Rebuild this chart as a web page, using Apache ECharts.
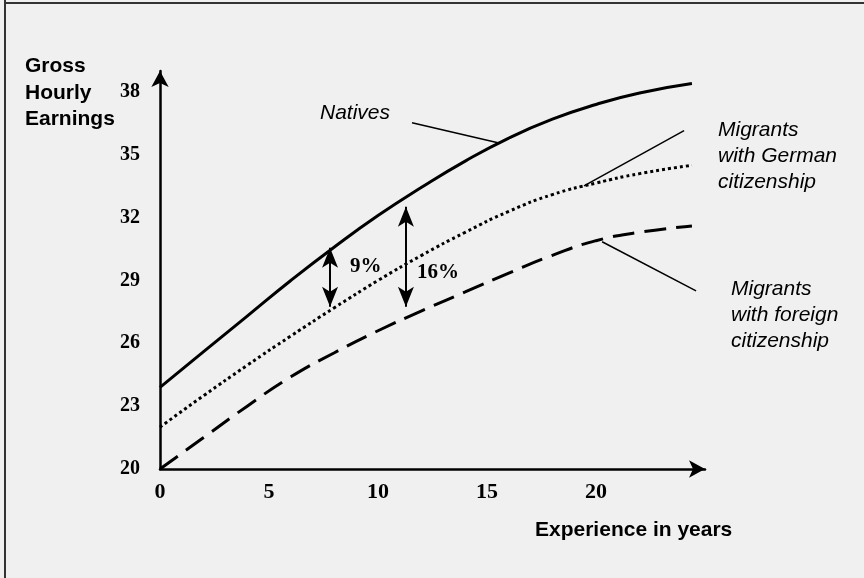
<!DOCTYPE html>
<html>
<head>
<meta charset="utf-8">
<title>Gross hourly earnings by experience</title>
<script src="https://cdn.jsdelivr.net/npm/echarts@6/dist/echarts.min.js"></script>
<style>
  html, body { margin: 0; padding: 0; background: #f0f0f0; }
  #chart { width: 864px; height: 578px; }
</style>
</head>
<body>
<div id="chart"></div>
<script>
var years = [0, 2, 4, 6, 8, 10, 12, 14, 16, 18, 20, 22, 24.4];
var natives = [23.9, 25.6, 27.3, 29.0, 30.6, 32.1, 33.45, 34.7, 35.8, 36.7, 37.4, 37.95, 38.4];
var germanCitizens = [22.0, 23.5, 24.95, 26.35, 27.7, 29.0, 30.2, 31.3, 32.3, 33.1, 33.65, 34.1, 34.5];
var foreignCitizens = [20.0, 21.5, 23.0, 24.4, 25.55, 26.6, 27.55, 28.45, 29.35, 30.2, 30.9, 31.3, 31.6];

var xTicks = [0, 5, 10, 15, 20];
var yTicks = [20, 23, 26, 29, 32, 35, 38];

// gap arrows: [year, top, bottom]
var gapArrows = [[7.8, 30.56, 27.74], [11.28, 32.52, 27.74]];
var gapLabels = ['9%', '16%'];

// leader lines from the text labels to the curves
var leaders = [
  [[11.56, 36.53], [15.55, 35.56]],
  [[24.04, 36.15], [19.45, 33.52]],
  [[20.28, 30.85], [24.59, 28.5]]
];

var sans = 'Liberation Sans';
var serif = 'Liberation Serif';

function pairs(vals) {
  return years.map(function (x, i) { return [x, vals[i]]; });
}

// one end of a double arrow
function arrowEnd(x, y) {
  return { coord: [x, y], symbol: 'arrow', symbolSize: [12, 20] };
}

var chart = echarts.init(document.getElementById('chart'));

var option = {
  backgroundColor: '#f0f0f0',
  animation: false,
  grid: { left: 160, right: 159, top: 71, bottom: 109, outerBoundsMode: 'none' },
  xAxis: {
    type: 'value', min: 0, max: 25,
    axisLine: { show: true, symbol: ['none', 'arrow'], symbolSize: [13, 16],
      lineStyle: { color: '#000', width: 2.5 } },
    axisTick: { show: false },
    splitLine: { show: false },
    axisLabel: { customValues: xTicks, color: '#000', fontFamily: serif,
      fontWeight: 'bold', fontSize: 22, margin: 12 }
  },
  yAxis: {
    type: 'value', min: 20, max: 39,
    axisLine: { show: true, symbol: ['none', 'arrow'], symbolSize: [13, 16],
      lineStyle: { color: '#000', width: 2.5 } },
    axisTick: { show: false },
    splitLine: { show: false },
    axisLabel: { customValues: yTicks, color: '#000', fontFamily: serif,
      fontWeight: 'bold', fontSize: 20, margin: 20 }
  },
  series: [
    {
      name: 'Natives', type: 'line', data: pairs(natives), smooth: true,
      showSymbol: false, silent: true,
      lineStyle: { color: '#000', width: 3, type: 'solid' },
      markLine: {
        silent: true, symbol: ['none', 'none'], label: { show: false },
        lineStyle: { color: '#000', width: 1.5, type: 'solid' },
        data: leaders.map(function (l) { return [{ coord: l[0] }, { coord: l[1] }]; })
      }
    },
    {
      name: 'Migrants with German citizenship', type: 'line', data: pairs(germanCitizens),
      smooth: true, showSymbol: false, silent: true,
      lineStyle: { color: '#000', width: 3, type: [3, 3] },
      markLine: {
        silent: true,
        label: { show: false },
        lineStyle: { color: '#000', width: 2, type: 'solid' },
        itemStyle: { color: '#000' },
        data: gapArrows.map(function (a) { return [arrowEnd(a[0], a[1]), arrowEnd(a[0], a[2])]; })
      }
    },
    {
      name: 'Migrants with foreign citizenship', type: 'line', data: pairs(foreignCitizens),
      smooth: true, showSymbol: false, silent: true,
      lineStyle: { color: '#000', width: 3, type: [22, 10] }
    }
  ],
  graphic: [
    { type: 'rect', shape: { x: 4, y: 0, width: 2, height: 578 }, style: { fill: '#333' } },
    { type: 'rect', shape: { x: 4, y: 2, width: 860, height: 2 }, style: { fill: '#333' } },
    { type: 'text', style: { x: 25, y: 53, text: 'Gross\nHourly\nEarnings', font: 'bold 21px ' + sans,
      lineHeight: 26.5, fill: '#000', textVerticalAlign: 'top' } },
    { type: 'text', style: { x: 535, y: 530, text: 'Experience in years', font: 'bold 21px ' + sans,
      fill: '#000', textVerticalAlign: 'middle' } },
    { type: 'text', style: { x: 320, y: 113, text: 'Natives', font: 'italic 21px ' + sans,
      fill: '#000', textVerticalAlign: 'middle' } },
    { type: 'text', style: { x: 718, y: 117, text: 'Migrants\nwith German\ncitizenship', font: 'italic 21px ' + sans,
      lineHeight: 26, fill: '#000', textVerticalAlign: 'top' } },
    { type: 'text', style: { x: 731, y: 276, text: 'Migrants\nwith foreign\ncitizenship', font: 'italic 21px ' + sans,
      lineHeight: 26, fill: '#000', textVerticalAlign: 'top' } },
    { type: 'text', style: { x: 350, y: 267, text: gapLabels[0], font: 'bold 21px ' + serif,
      fill: '#000', textVerticalAlign: 'middle' } },
    { type: 'text', style: { x: 417, y: 273, text: gapLabels[1], font: 'bold 21px ' + serif,
      fill: '#000', textVerticalAlign: 'middle' } }
  ]
};

chart.setOption(option);
</script>
</body>
</html>
